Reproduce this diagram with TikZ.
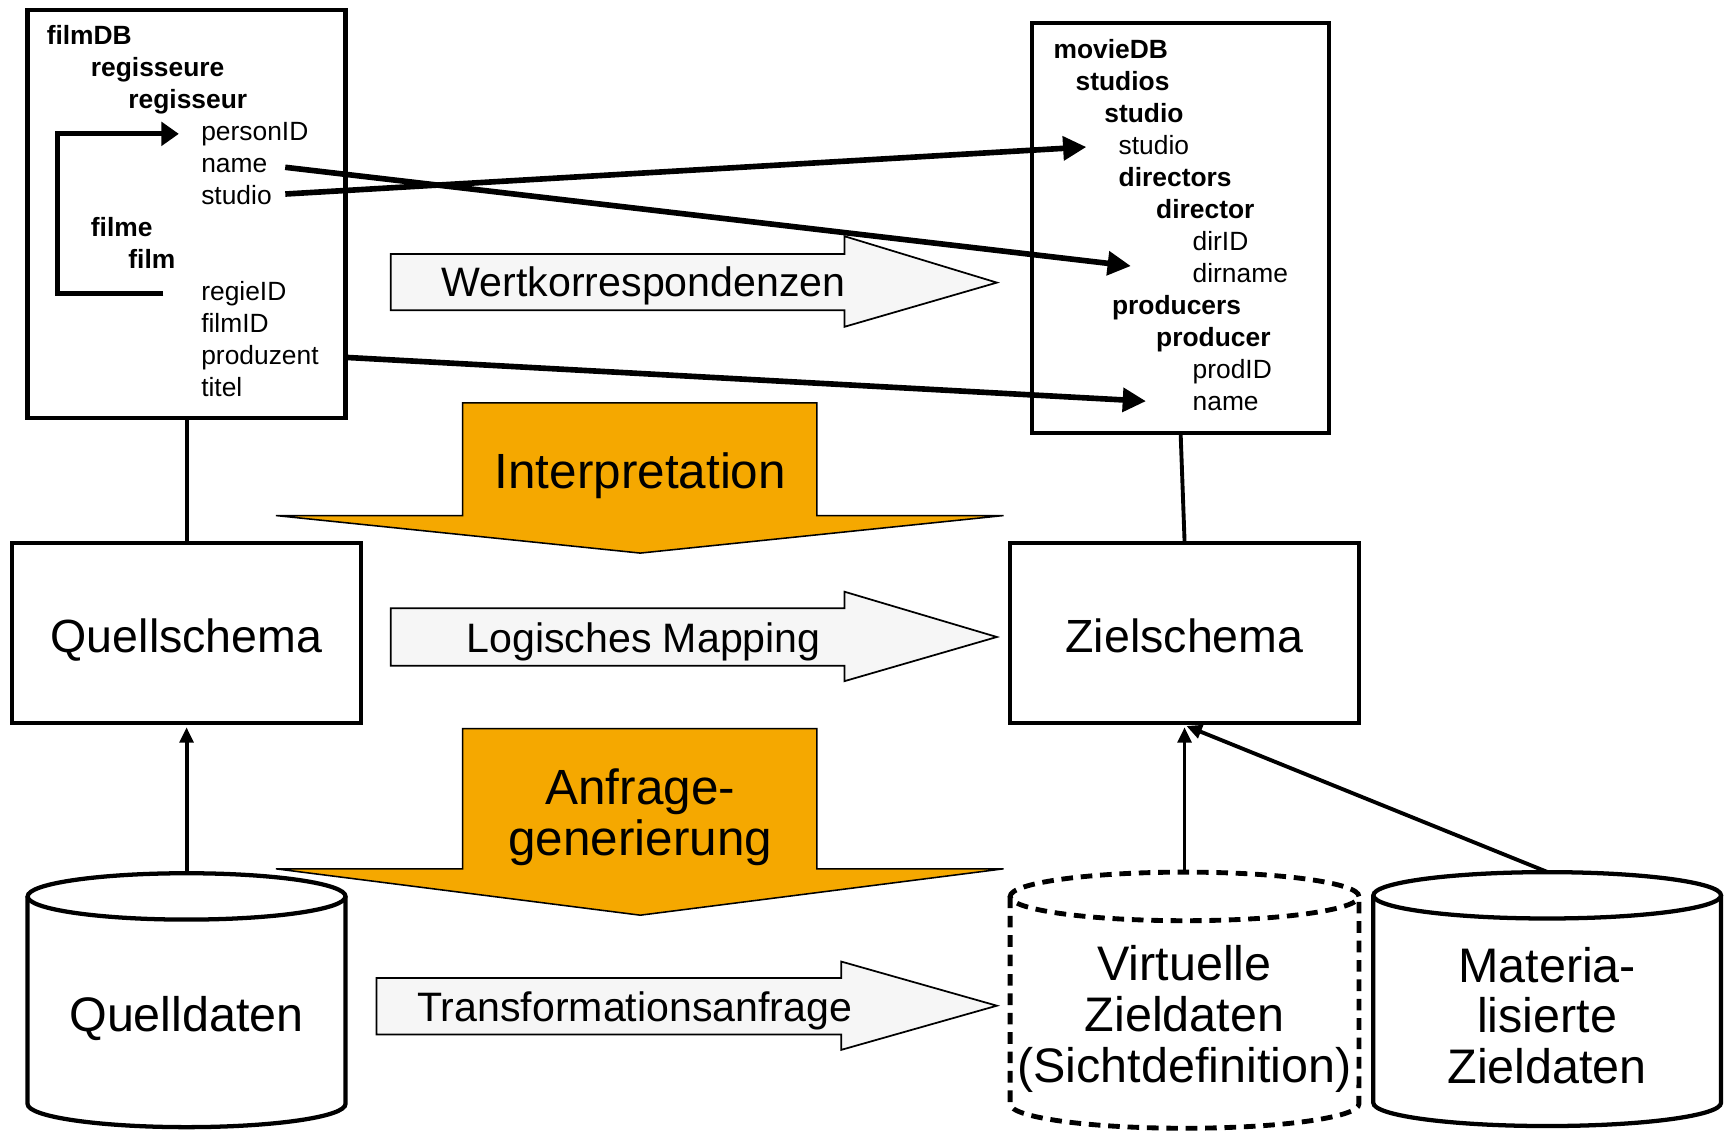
\documentclass[tikz,border=0pt]{standalone}
\usepackage{fontspec}
\setmainfont{Liberation Sans}
\usetikzlibrary{arrows.meta}

\definecolor{flowgray}{gray}{0.965}
\definecolor{maporange}{RGB}{245,168,0}

\begin{document}
\begin{tikzpicture}
        [x=0.02cm, y=-0.02cm,
        attr/.style={anchor=base west, inner sep=0pt, font=\fontsize{13.6}{16.5}\selectfont},
        elem/.style={attr, font=\fontsize{13.6}{16.5}\selectfont\bfseries},
        box/.style={draw=black, line width=2.2pt, fill=white},
        boxtext/.style={font=\fontsize{24}{26.2}\selectfont, text height=20.5pt, text depth=0.5pt},
        flow/.style={draw=black, line width=0.9pt, fill=flowgray},
        flowtext/.style={font=\fontsize{21.2}{25}\selectfont, inner sep=0pt},
        bigflow/.style={draw=black, line width=0.8pt, fill=maporange},
        bigtext/.style={font=\fontsize{25.5}{26.2}\selectfont, align=center, inner sep=0pt},
        db/.style={draw=black, line width=2.2pt},
        dbtext/.style={font=\fontsize{25}{26.2}\selectfont, align=center, inner sep=0pt},
        link/.style={line width=2pt},
        uparr/.style={-{Triangle[length=8pt, width=7pt]}, line width=2pt, shorten >=1pt},
        arr/.style={-{Triangle[length=12pt, width=12pt]}, line width=2.9pt},
        looparr/.style={-{Triangle[length=9pt, width=12pt]}, line width=2.7pt, line join=miter}]
        \useasboundingbox (0,0) rectangle (1568,1024);

        % schema boxes
        \node (filmdb) at (169,194) [box, minimum width=5.76cm, minimum height=7.4cm] {};
        \node (moviedb) at (1069.5,206.5) [box, minimum width=5.38cm, minimum height=7.42cm] {};
        \node (quell) at (169,573.5) [box, boxtext, minimum width=6.32cm, minimum height=3.26cm] {Quellschema};
        \node (ziel) at (1073,573.5) [box, boxtext, minimum width=6.32cm, minimum height=3.26cm] {Zielschema};

        % source schema
        \node (filmDB) at (42,40) [elem] {filmDB};
        \node (regisseure) at (82,69) [elem] {regisseure};
        \node (regisseur) at (116,98) [elem] {regisseur};
        \node (personID) at (182,127) [attr] {personID};
        \node (lname) at (182,156) [attr] {name};
        \node (lstudio) at (182,185) [attr] {studio};
        \node (filme) at (82,214) [elem] {filme};
        \node (film) at (116,243) [elem] {film};
        \node (regieID) at (182,272) [attr] {regieID};
        \node (filmID) at (182,301) [attr] {filmID};
        \node (produzent) at (182,330) [attr] {produzent};
        \node (titel) at (182,359) [attr] {titel};

        % target schema
        \node (movieDB) at (954,53) [elem] {movieDB};
        \node (studios) at (974,82) [elem] {studios};
        \node (studioel) at (1000,111) [elem] {studio};
        \node (rstudio) at (1013,140) [attr] {studio};
        \node (directors) at (1013,169) [elem] {directors};
        \node (director) at (1047,198) [elem] {director};
        \node (dirID) at (1080,227) [attr] {dirID};
        \node (dirname) at (1080,256) [attr] {dirname};
        \node (producers) at (1007,285) [elem] {producers};
        \node (producer) at (1047,314) [elem] {producer};
        \node (prodID) at (1080,343) [attr] {prodID};
        \node (prodname) at (1080,372) [attr] {name};

        % flow arrows
        \draw[flow] (354,230) -- (765,230) -- (765,214) -- (903,256) -- (765,296) -- (765,281) -- (354,281) -- cycle;
        \node (wert) at (583,259) [flowtext] {Wertkorrespondenzen};
        \draw[flow] (354,551) -- (765,551) -- (765,536) -- (903,577) -- (765,617) -- (765,603) -- (354,603) -- cycle;
        \node (logmap) at (583,581) [flowtext] {Logisches Mapping};
        \draw[flow] (341,886) -- (762,886) -- (762,871) -- (903,911) -- (762,951) -- (762,937) -- (341,937) -- cycle;
        \node (transf) at (575,916) [flowtext] {Transformationsanfrage};

        \draw[bigflow] (419,365) -- (740,365) -- (740,467) -- (909,467) -- (580,501) -- (250,467) -- (419,467) -- cycle;
        \node (interp) at (580,431) [bigtext] {Interpretation};
        \draw[bigflow] (419,660) -- (740,660) -- (740,787) -- (909,787) -- (580,829) -- (250,787) -- (419,787) -- cycle;
        \node (anfrage) at (580,740) [bigtext] {Anfrage-\\generierung};

        % data stores
        \draw[db] (25,812) -- (25,1000) arc[start angle=180, end angle=360, x radius=2.88cm, y radius=0.42cm] -- (313,812);
        \draw[db] (169,812) ellipse [x radius=2.88cm, y radius=0.42cm];
        \coordinate (qdtop) at (169,791);
        \node (quelldaten) at (169,923) [dbtext] {Quelldaten};

        \draw[db, line width=2.5pt, dash pattern=on 6pt off 4pt] (915,812) -- (915,1000) arc[start angle=180, end angle=360, x radius=3.16cm, y radius=0.44cm] -- (1231,812);
        \draw[db, line width=2.5pt, dash pattern=on 6pt off 4pt] (1073,812) ellipse [x radius=3.16cm, y radius=0.44cm];
        \coordinate (vztop) at (1073,790);
        \node (virtuell) at (1073,923) [dbtext] {Virtuelle\\Zieldaten\\(Sichtdefinition)};

        \draw[db] (1244,811) -- (1244,999) arc[start angle=180, end angle=360, x radius=3.15cm, y radius=0.42cm] -- (1559,811);
        \draw[db] (1401.5,811) ellipse [x radius=3.15cm, y radius=0.42cm];
        \coordinate (mztop) at (1402,790);
        \node (material) at (1401.5,920) [dbtext] {Materia-\\lisierte\\Zieldaten};

        % connectors
        \draw[link] (filmdb.south) -- (quell.north);
        \draw[link] (moviedb.south) -- (ziel.north);
        \draw[uparr] (qdtop) -- (quell.south);
        \draw[uparr] (vztop) -- (ziel.south);
        \draw[uparr] (mztop) -- (ziel.south);

        % value correspondences
        \draw[looparr] ([xshift=-0.68cm]regieID.west) -- ++(-96,0) |- ([xshift=-0.4cm]personID.west);
        \draw[arr, shorten <=0.32cm, shorten >=1.12cm] (lname.east) -- (dirname.west);
        \draw[arr, shorten <=0.24cm, shorten >=0.58cm] (lstudio.east) -- (rstudio.west);
        \draw[arr, shorten >=0.84cm] (produzent -| filmdb.east) -- (prodname.west);
     \end{tikzpicture}
\end{document}
